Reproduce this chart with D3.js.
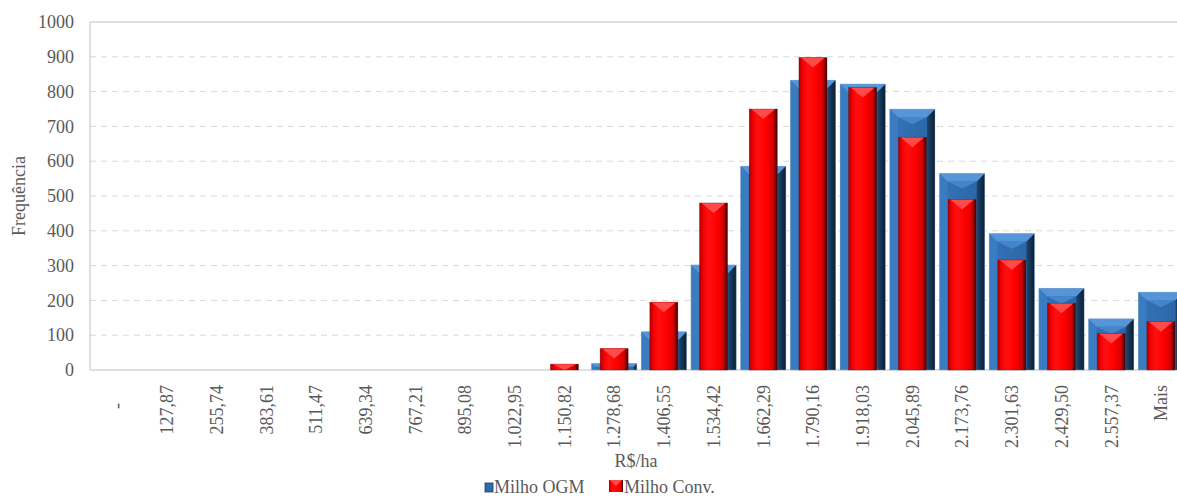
<!DOCTYPE html>
<html><head><meta charset="utf-8">
<script src="https://cdn.jsdelivr.net/npm/d3@7"></script>
<style>html,body{margin:0;padding:0;background:#fff;overflow:hidden}</style>
</head><body><svg id="c" width="1177" height="497"></svg>
<script>
const categories = ["-","127,87","255,74","383,61","511,47","639,34","767,21","895,08","1.022,95","1.150,82","1.278,68","1.406,55","1.534,42","1.662,29","1.790,16","1.918,03","2.045,89","2.173,76","2.301,63","2.429,50","2.557,37","Mais"];
const ogm  = [0,0,0,0,0,0,0,0,0,0,19,110,302,586,833,822,750,565,392,235,147,224];
const conv = [0,0,0,0,0,0,0,0,0,17,62,195,480,750,898,812,669,490,316,192,105,139];
const yTicks = [0,100,200,300,400,500,600,700,800,900,1000];
const seriesNames = ["Milho OGM","Milho Conv."];

const svg = d3.select("#c");
const font = "'Liberation Serif','Times New Roman',serif";
const txt = "#595959";
const pLeft = 90, pTop = 22, pBottom = 370, pRight = 1188;

const x = d3.scaleBand().domain(categories).range([pLeft, pRight]).padding(0.09);
const y = d3.scaleLinear().domain([0, 1000]).range([pBottom, pTop]);

const defs = svg.append("defs");
function grad(id, stops){
  const g = defs.append("linearGradient").attr("id", id).attr("x1","0").attr("x2","1").attr("y1","0").attr("y2","0");
  stops.forEach(s => g.append("stop").attr("offset", s[0]).attr("stop-color", s[1]));
}
grad("redFace", [["0","#a80000"],["0.12","#f00000"],["0.3","#ff1010"],["0.6","#ff0000"],["0.85","#d40000"],["1","#3a0000"]]);
grad("blueRight", [["0","#1d4772"],["1","#0b1d31"]]);
grad("blueFace", [["0","#3574b8"],["1","#2a64a4"]]);

// gridlines
svg.append("g").selectAll("line").data(yTicks.filter(d => d > 0 && d < 1000)).join("line")
  .attr("x1", pLeft).attr("x2", 1177).attr("y1", d => y(d)).attr("y2", d => y(d))
  .attr("stroke", "#d9d9d9").attr("stroke-dasharray", "6,5").attr("stroke-width", 1);

// plot border
svg.append("path").attr("d", `M1177,${y(1000)}H${pLeft}V${y(0)}H1177`)
  .attr("fill","none").attr("stroke","#c0c0c0").attr("stroke-width",1);

// y axis labels
const yAxis = d3.axisLeft(y).tickValues(yTicks).tickFormat(d3.format("d")).tickSize(0).tickPadding(16);
const ya = svg.append("g").attr("transform", `translate(${pLeft},0)`).call(yAxis);
ya.select(".domain").remove();
ya.selectAll("text").attr("font-family", font).attr("font-size", 18).attr("fill", txt);

// x axis labels
const xAxis = d3.axisBottom(x).tickSize(0).tickPadding(0);
const xa = svg.append("g").attr("transform", `translate(0,${pBottom})`).call(xAxis);
xa.select(".domain").remove();
xa.selectAll("text").attr("font-family", font).attr("font-size", 18).attr("fill", txt)
  .attr("text-anchor","end").attr("transform","rotate(-90)")
  .attr("x", -15).attr("y", 0).attr("dy", "0.35em")
  .style("white-space","pre")
  .text(d => d === "-" ? "-    " : d);

// axis titles
svg.append("text").attr("transform", "translate(25,196) rotate(-90)").attr("text-anchor","middle")
  .attr("font-family", font).attr("font-size", 18).attr("fill", txt).text("Frequência");
svg.append("text").attr("x", 636).attr("y", 467).attr("text-anchor","middle")
  .attr("font-family", font).attr("font-size", 18).attr("fill", txt).text("R$/ha");

// blue bars
const bw = x.bandwidth();
const bars1 = svg.append("g").selectAll("g").data(categories.map((c,i)=>({c, v: ogm[i]})).filter(d=>d.v>0)).join("g");
bars1.each(function(d){
  const g = d3.select(this);
  const x0 = x(d.c), w = bw, y0 = y(d.v), h = y(0) - y0;
  const b = Math.min(8, h/2, w/4);
  g.append("rect").attr("x", x0).attr("y", y0).attr("width", w).attr("height", h).attr("fill", "url(#blueFace)");
  g.append("polygon").attr("points", [[x0,y0],[x0+b,y0+b],[x0+b,y0+h],[x0,y0+h]].join(" ")).attr("fill", "#3a7cc2");
  g.append("polygon").attr("points", [[x0+w,y0],[x0+w-b,y0+b],[x0+w-b,y0+h],[x0+w,y0+h]].join(" ")).attr("fill", "url(#blueRight)");
  g.append("polygon").attr("points", [[x0,y0],[x0+w,y0],[x0+w-b,y0+b],[x0+b,y0+b]].join(" ")).attr("fill", "#5595d8");
  const vd = Math.min(b*0.9, h - b);
  if (vd > 0) g.append("polygon").attr("points", [[x0+b,y0+b],[x0+w-b,y0+b],[x0+w/2,y0+b+vd]].join(" ")).attr("fill", "#4486cc");
  g.append("rect").attr("x", x0).attr("y", y0).attr("width", w).attr("height", h).attr("fill","none").attr("stroke","#9fb8d4").attr("stroke-width",0.6).attr("stroke-opacity",0.6);
});

// red bars
const rw = bw * 0.62;
const bars2 = svg.append("g").selectAll("g").data(categories.map((c,i)=>({c, v: conv[i]})).filter(d=>d.v>0)).join("g");
bars2.each(function(d){
  const g = d3.select(this);
  const x0 = x(d.c) + (bw - rw)/2, w = rw, y0 = y(d.v), h = y(0) - y0;
  g.append("rect").attr("x", x0).attr("y", y0).attr("width", w).attr("height", h).attr("fill", "url(#redFace)");
  const t = Math.min(10, h);
  g.append("polygon").attr("points", [[x0+2,y0],[x0+w-2,y0],[x0+w/2,y0+t]].join(" ")).attr("fill", "#ff4a4a");
  g.append("rect").attr("x", x0).attr("y", y0).attr("width", w).attr("height", h).attr("fill","none").attr("stroke","#7a0000").attr("stroke-width",0.6).attr("stroke-opacity",0.5);
});

// legend
const lg = svg.append("g");
lg.append("rect").attr("x", 485).attr("y", 483).attr("width", 8).attr("height", 9).attr("fill", "#2e6cb0").attr("stroke","#1b3d63").attr("stroke-width",0.8);
lg.append("text").attr("x", 494).attr("y", 493).attr("font-family", font).attr("font-size", 18).attr("fill", txt).text(seriesNames[0]);
lg.append("rect").attr("x", 609).attr("y", 480).attr("width", 14).attr("height", 12).attr("fill", "url(#redFace)");
lg.append("polygon").attr("points", "610,480 622,480 616,486").attr("fill","#ff4a4a");
lg.append("text").attr("x", 624).attr("y", 493).attr("font-family", font).attr("font-size", 18).attr("fill", txt).text(seriesNames[1]);
</script></body></html>
